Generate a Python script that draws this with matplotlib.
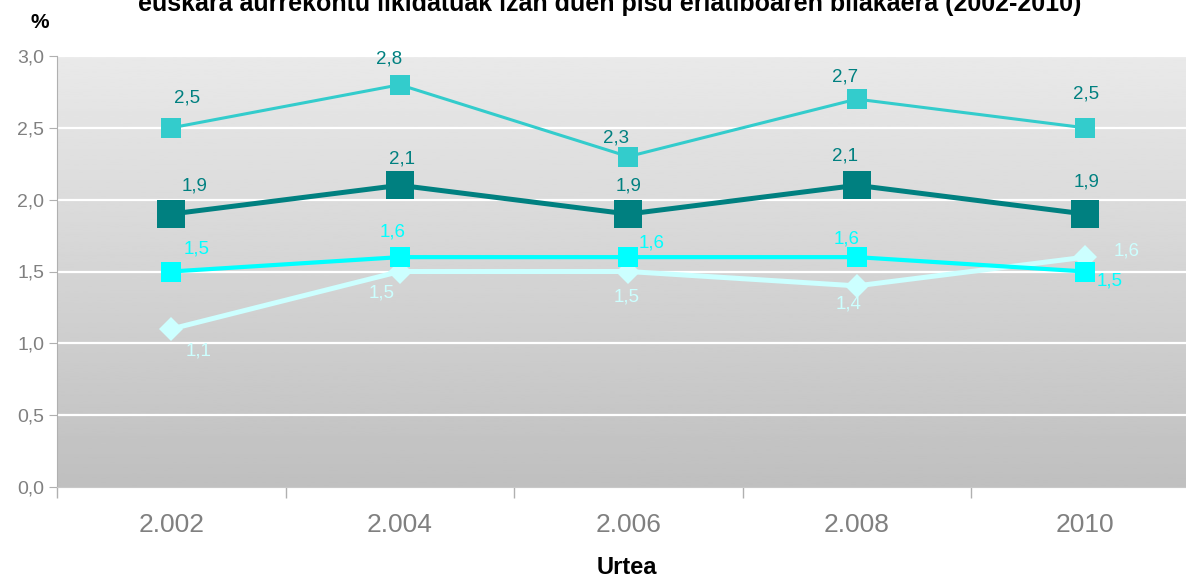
import numpy as np
import matplotlib
matplotlib.use("Agg")
import matplotlib.pyplot as plt
from matplotlib import font_manager
from matplotlib.ticker import FixedLocator, FuncFormatter

# datuak
years = ["2.002", "2.004", "2.006", "2.008", "2010"]
serie_a = [2.5, 2.8, 2.3, 2.7, 2.5]
serie_b = [1.9, 2.1, 1.9, 2.1, 1.9]
serie_c = [1.5, 1.6, 1.6, 1.6, 1.5]
serie_d = [1.1, 1.5, 1.5, 1.4, 1.6]

title = "euskara aurrekontu likidatuak izan duen pisu erlatiboaren bilakaera (2002-2010)"

names = {f.name for f in font_manager.fontManager.ttflist}
narrow = "Liberation Sans Narrow" if "Liberation Sans Narrow" in names else "Liberation Sans"
plt.rcParams["font.family"] = ["Liberation Sans", "DejaVu Sans"]

fig = plt.figure(figsize=(11.86, 5.79), dpi=100)
ax = fig.add_axes([57 / 1186, 1 - 487 / 579, 1142.5 / 1186, 431 / 579])

x = np.arange(len(years))

# background gradient
grad = np.linspace(0.75, 0.915, 256).reshape(-1, 1)
ax.imshow(grad, cmap="gray", vmin=0, vmax=1, origin="lower", aspect="auto",
          extent=[-0.5, 4.5, 0, 3.0], zorder=0)

ax.set_xlim(-0.5, 4.5)
ax.set_ylim(0, 3.0)
for yv in np.arange(0.5, 3.01, 0.5):
    ax.axhline(yv, color="white", lw=1.6, zorder=1)

# label offsets (pixels)
off_a = [(16, 30), (-11, 26), (-12, 19), (-12, 22), (1, 34)]
off_b = [(23, 28), (2, 26), (0, 28), (-12, 29), (1, 32)]
off_c = [(25, 23), (-7, 25), (23, 14), (-10, 18), (24, -10)]
off_d = [(27, -22), (-18, -21), (-2, -25), (-8, -18), (41, 6)]

series = [
    (serie_d, "#CCFFFF", "D", 12.5, 3.6, "#CCFFFF", off_d, 3),
    (serie_c, "#00FFFF", "s", 13.7, 3.0, "#00FFFF", off_c, 4),
    (serie_a, "#33CCCC", "s", 13.7, 2.2, "#008080", off_a, 5),
    (serie_b, "#008080", "s", 19.5, 3.6, "#008080", off_b, 6),
]
for vals, col, mk, ms, lw, lcol, offs, z in series:
    ax.plot(x, vals, color=col, marker=mk, markersize=ms, lw=lw,
            markeredgewidth=0, zorder=z)
    for xi, v, o in zip(x, vals, offs):
        ax.annotate(f"{v:.1f}".replace(".", ","), (xi, v), xytext=o,
                    textcoords="offset pixels", ha="center", va="center",
                    color=lcol, fontsize=13.5, zorder=10)

ax.xaxis.set_major_locator(FixedLocator(x))
ax.set_xticklabels(years, family=narrow)
ax.xaxis.set_minor_locator(FixedLocator(np.arange(-0.5, 4.6, 1)))
ax.tick_params(axis="x", which="major", length=0, pad=19, labelsize=19,
               labelcolor="#808080")
ax.tick_params(axis="x", which="minor", length=8, color="#b0b0b0", width=1)
ax.set_yticks(np.arange(0, 3.01, 0.5))
ax.yaxis.set_major_formatter(FuncFormatter(lambda v, p: f"{v:.1f}".replace(".", ",")))
ax.tick_params(axis="y", length=6, color="#b0b0b0", labelsize=14,
               labelcolor="#808080", pad=3)

for s in ["top", "right"]:
    ax.spines[s].set_visible(False)
ax.spines["left"].set_color("#b0b0b0")
ax.spines["bottom"].set_color("#c8c8c8")

fig.text(40 / 1186, 1 - 22 / 579, "%", fontsize=15, fontweight="bold",
         ha="center", va="center")
fig.text(627 / 1186, 1 - 567 / 579, "Urtea", fontsize=17, fontweight="bold",
         family=narrow, ha="center", va="center")
fig.text(610 / 1186, 1 - 11 / 579, title, fontsize=18, fontweight="bold",
         family=narrow, ha="center", va="baseline")

fig.savefig("out.png", dpi=100)
